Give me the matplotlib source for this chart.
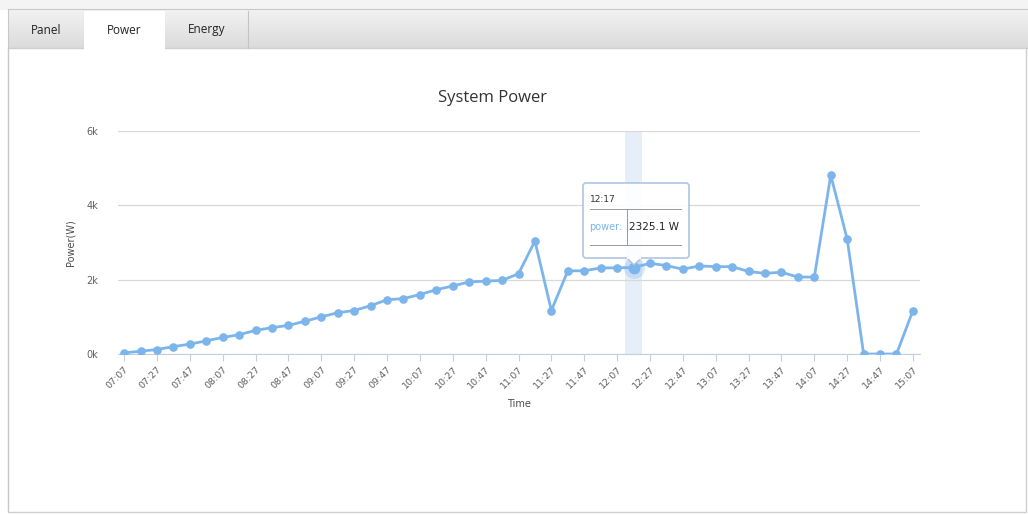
import numpy as np
import matplotlib
matplotlib.use("Agg")
import matplotlib.pyplot as plt
from matplotlib.patches import Rectangle, FancyBboxPatch, Polygon
from matplotlib.ticker import FuncFormatter

# data (one sample every 10 minutes)
times = ["07:07", "07:17", "07:27", "07:37", "07:47", "07:57", "08:07", "08:17",
         "08:27", "08:37", "08:47", "08:57", "09:07", "09:17", "09:27", "09:37",
         "09:47", "09:57", "10:07", "10:17", "10:27", "10:37", "10:47", "10:57",
         "11:07", "11:17", "11:27", "11:37", "11:47", "11:57", "12:07", "12:17",
         "12:27", "12:37", "12:47", "12:57", "13:07", "13:17", "13:27", "13:37",
         "13:47", "13:57", "14:07", "14:17", "14:27", "14:37", "14:47", "14:57",
         "15:07"]
power = [30, 75, 120, 200, 265, 355, 445, 520, 635, 710, 770, 880, 1000, 1110,
         1170, 1300, 1460, 1490, 1600, 1730, 1830, 1940, 1960, 1980, 2160, 3040,
         1170, 2235, 2240, 2315, 2320, 2325.1, 2440, 2380, 2280, 2370, 2350, 2350,
         2220, 2170, 2200, 2070, 2070, 4810, 3090, 0, 0, 0, 1170]
yticks = [0, 2000, 4000, 6000]
tabs = ["Panel", "Power", "Energy"]
hover = 31  # point under the tooltip

W, H = 1028, 515
fig = plt.figure(figsize=(W / 100, H / 100), dpi=100)
fig.patch.set_facecolor("white")

# page background (pixel coords)
bg = fig.add_axes([0, 0, 1, 1], zorder=0)
bg.set_xlim(0, W)
bg.set_ylim(H, 0)
bg.axis("off")
bg.add_patch(Rectangle((0, 0), W, 10, facecolor="#f4f4f4", edgecolor="none"))
# tab bar gradient
grad = np.linspace(0, 1, 40)[:, None, None]
top_c = np.array([0.95, 0.95, 0.95])
bot_c = np.array([0.86, 0.86, 0.86])
img = top_c + (bot_c - top_c) * grad
img = np.repeat(img, 2, axis=1)
bg.imshow(img, extent=[8, W, 48, 9], aspect="auto", zorder=1)
bg.plot([8, W], [9, 9], color="#c8c8c8", lw=0.8, zorder=2)
bg.plot([8, W], [48, 48], color="#bdbdbd", lw=0.8, zorder=2)
# content box
bg.add_patch(Rectangle((8, 48), W - 10, 464, facecolor="white",
                       edgecolor="#cfcfcf", lw=1.0, zorder=2))
# tabs
tab_x = [(8, 84), (84, 165), (165, 248)]
for i, (name, (x0, x1)) in enumerate(zip(tabs, tab_x)):
    if name == "Power":
        bg.add_patch(Rectangle((x0, 11), x1 - x0, 39, facecolor="white",
                               edgecolor="none", zorder=3))
    else:
        bg.plot([x1, x1], [11, 48], color="#c4c4c4", lw=0.8, zorder=3)
    bg.text((x0 + x1) / 2, 30, name, ha="center", va="center", fontsize=8.5,
            color="#222222", family="Open Sans", zorder=4)
bg.plot([8, 8], [9, 512], color="#c8c8c8", lw=0.8, zorder=3)

# chart
ax = fig.add_axes([118 / W, (H - 354) / H, (920 - 118) / W, (354 - 131) / H], zorder=2)
ax.patch.set_alpha(0)
x = np.arange(len(power))
ax.axvspan(hover - 0.5, hover + 0.5, color="#e6eefa", zorder=0, lw=0)
ax.plot(x, power, color="#7cb5ec", lw=2.0, marker="o", ms=5.2, zorder=3)
ax.plot(x[hover], power[hover], "o", color="#7cb5ec", ms=15, alpha=0.3, zorder=4, mec="none")
ax.plot(x[hover], power[hover], "o", color="#7cb5ec", ms=7.5, zorder=5)

ax.set_xlim(-0.37, 48.43)
ax.set_ylim(0, 6000)
ax.set_yticks(yticks)
ax.yaxis.set_major_formatter(FuncFormatter(lambda v, p: f"{v / 1000:.0f}k"))
ax.set_xticks(x[::2])
ax.set_xticklabels(times[::2], rotation=45, ha="right", va="top",
                   rotation_mode="anchor", fontsize=6.8, color="#606060")
ax.grid(axis="y", color="#d8d8d8", lw=0.9)
ax.set_axisbelow(True)
for side in ["top", "right", "left"]:
    ax.spines[side].set_visible(False)
ax.spines["bottom"].set_color("#c0d0e0")
ax.tick_params(axis="x", length=5, color="#c0d0e0", pad=3)
ax.tick_params(axis="y", length=0, labelsize=7, labelcolor="#606060", pad=14)
ax.set_xlabel("Time", fontsize=7, color="#4d4d4d", labelpad=6)
ax.set_ylabel("Power(W)", fontsize=7, color="#4d4d4d", labelpad=8)
fig.text(493 / W, 1 - 98 / H, "System Power", fontsize=12, color="#333333",
         ha="center", va="center", family="Open Sans")

# tooltip overlay
ov = fig.add_axes([0, 0, 1, 1], zorder=6)
ov.set_xlim(0, W)
ov.set_ylim(H, 0)
ov.axis("off")
ov.patch.set_alpha(0)
ov.add_patch(FancyBboxPatch((583, 183), 106, 75, boxstyle="round,pad=0,rounding_size=3",
                            facecolor="white", edgecolor="#a9c1df", lw=1.2, alpha=0.92))
ov.add_patch(Polygon([[627, 258], [634, 265], [641, 258]], closed=True,
                     facecolor="white", edgecolor="#a9c1df", lw=1.0))
ov.plot([628, 640], [258, 258], color="white", lw=1.6)
ov.text(590, 199, times[hover], fontsize=6.5, color="#333333", va="center")
ov.plot([590, 681], [209, 209], color="#999999", lw=0.7)
ov.plot([627, 627], [209, 245], color="#999999", lw=0.7)
ov.plot([590, 681], [245, 245], color="#999999", lw=0.7)
ov.text(589, 227, "power:", fontsize=7, color="#7cb5ec", va="center")
ov.text(629, 227, f"{power[hover]} W", fontsize=7.5, color="#222222", va="center")

fig.savefig("out.png", dpi=100)
